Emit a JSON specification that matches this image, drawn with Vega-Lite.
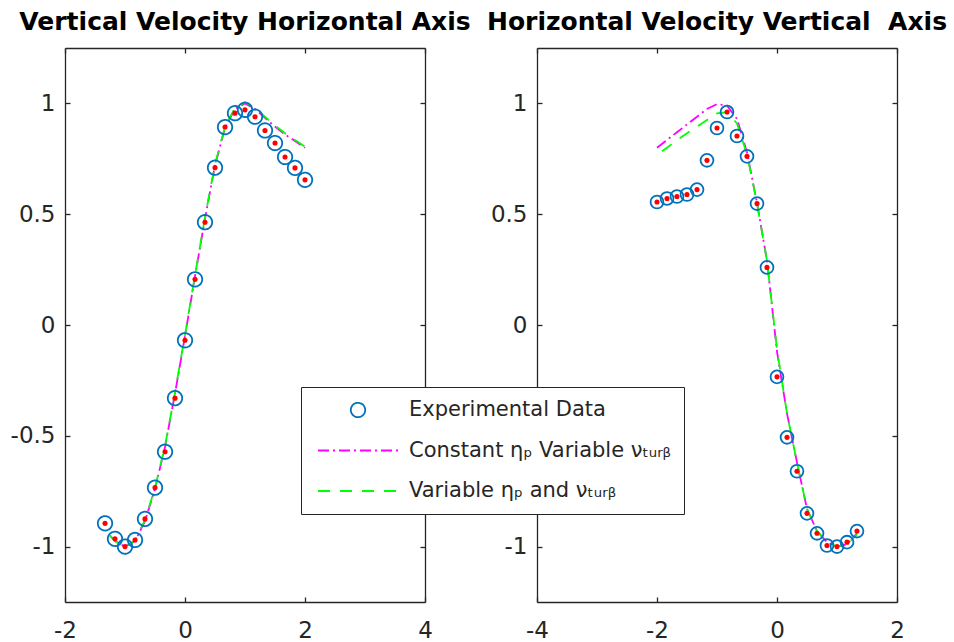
{
  "$schema": "https://vega.github.io/schema/vega-lite/v6.json",
  "background": "white",
  "padding": {"left": 10, "top": 10, "right": 4, "bottom": 2},
  "config": {
    "font": "DejaVu Sans",
    "view": {"stroke": null},
    "axis": {
      "domainColor": "#262626", "domainWidth": 1.3,
      "tickColor": "#262626", "tickWidth": 1.3, "tickSize": -5,
      "labelColor": "#262626", "labelFont": "DejaVu Sans", "labelFontSize": 23,
      "labelFlush": false, "labelOverlap": false, "grid": false
    },
    "legend": {
      "title": null,
      "orient": "none",
      "legendX": 236,
      "legendY": 339,
      "direction": "vertical",
      "padding": 12,
      "strokeColor": "#262626",
      "fillColor": "white",
      "symbolSize": 6400,
      "symbolStrokeWidth": 1.8,
      "symbolOffset": 4,
      "clipHeight": 22,
      "labelFont": "DejaVu Sans",
      "labelFontSize": 21,
      "labelColor": "#262626",
      "labelOffset": 10,
      "labelLimit": 400,
      "rowPadding": 18.5
    },
    "title": {"font": "DejaVu Sans", "fontSize": 25, "fontWeight": "bold", "color": "#000000", "anchor": "middle", "offset": 12}
  },
  "datasets": {
    "left": [
      {"series": "exp", "x": -1.333, "y": -0.895},
      {"series": "exp", "x": -1.167, "y": -0.965},
      {"series": "exp", "x": -1.0, "y": -1.0},
      {"series": "exp", "x": -0.833, "y": -0.97},
      {"series": "exp", "x": -0.667, "y": -0.875},
      {"series": "exp", "x": -0.5, "y": -0.734},
      {"series": "exp", "x": -0.333, "y": -0.572},
      {"series": "exp", "x": -0.167, "y": -0.33},
      {"series": "exp", "x": 0.0, "y": -0.069},
      {"series": "exp", "x": 0.167, "y": 0.206},
      {"series": "exp", "x": 0.333, "y": 0.464},
      {"series": "exp", "x": 0.5, "y": 0.71},
      {"series": "exp", "x": 0.667, "y": 0.893},
      {"series": "exp", "x": 0.833, "y": 0.956},
      {"series": "exp", "x": 1.0, "y": 0.971},
      {"series": "exp", "x": 1.167, "y": 0.94},
      {"series": "exp", "x": 1.333, "y": 0.878},
      {"series": "exp", "x": 1.5, "y": 0.821},
      {"series": "exp", "x": 1.667, "y": 0.758},
      {"series": "exp", "x": 1.833, "y": 0.709},
      {"series": "exp", "x": 2.0, "y": 0.655},
      {"series": "const", "x": -1.25, "y": -0.95},
      {"series": "const", "x": -1.167, "y": -0.975},
      {"series": "const", "x": -1.0, "y": -1.0},
      {"series": "const", "x": -0.833, "y": -0.975},
      {"series": "const", "x": -0.667, "y": -0.885},
      {"series": "const", "x": -0.5, "y": -0.74},
      {"series": "const", "x": -0.333, "y": -0.55},
      {"series": "const", "x": -0.167, "y": -0.31},
      {"series": "const", "x": 0.0, "y": -0.05},
      {"series": "const", "x": 0.167, "y": 0.22},
      {"series": "const", "x": 0.333, "y": 0.48},
      {"series": "const", "x": 0.5, "y": 0.72},
      {"series": "const", "x": 0.667, "y": 0.89},
      {"series": "const", "x": 0.833, "y": 0.975},
      {"series": "const", "x": 1.0, "y": 1.0},
      {"series": "const", "x": 1.167, "y": 0.975},
      {"series": "const", "x": 1.333, "y": 0.935},
      {"series": "const", "x": 1.5, "y": 0.895},
      {"series": "const", "x": 1.667, "y": 0.86},
      {"series": "const", "x": 1.833, "y": 0.83},
      {"series": "const", "x": 2.0, "y": 0.8},
      {"series": "var", "x": -1.25, "y": -0.95},
      {"series": "var", "x": -1.167, "y": -0.975},
      {"series": "var", "x": -1.0, "y": -1.0},
      {"series": "var", "x": -0.833, "y": -0.972},
      {"series": "var", "x": -0.667, "y": -0.88},
      {"series": "var", "x": -0.5, "y": -0.735},
      {"series": "var", "x": -0.333, "y": -0.545},
      {"series": "var", "x": -0.167, "y": -0.305},
      {"series": "var", "x": 0.0, "y": -0.045},
      {"series": "var", "x": 0.167, "y": 0.225},
      {"series": "var", "x": 0.333, "y": 0.485},
      {"series": "var", "x": 0.5, "y": 0.725},
      {"series": "var", "x": 0.667, "y": 0.895},
      {"series": "var", "x": 0.833, "y": 0.98},
      {"series": "var", "x": 1.0, "y": 1.005},
      {"series": "var", "x": 1.167, "y": 0.98},
      {"series": "var", "x": 1.333, "y": 0.94},
      {"series": "var", "x": 1.5, "y": 0.9},
      {"series": "var", "x": 1.667, "y": 0.865},
      {"series": "var", "x": 1.833, "y": 0.835},
      {"series": "var", "x": 2.0, "y": 0.805}
    ],
    "right": [
      {"series": "exp", "x": -2.0, "y": 0.555},
      {"series": "exp", "x": -1.833, "y": 0.571},
      {"series": "exp", "x": -1.667, "y": 0.58},
      {"series": "exp", "x": -1.5, "y": 0.589},
      {"series": "exp", "x": -1.333, "y": 0.611},
      {"series": "exp", "x": -1.167, "y": 0.743},
      {"series": "exp", "x": -1.0, "y": 0.889},
      {"series": "exp", "x": -0.833, "y": 0.961},
      {"series": "exp", "x": -0.667, "y": 0.853},
      {"series": "exp", "x": -0.5, "y": 0.761},
      {"series": "exp", "x": -0.333, "y": 0.548},
      {"series": "exp", "x": -0.167, "y": 0.26},
      {"series": "exp", "x": 0.0, "y": -0.234},
      {"series": "exp", "x": 0.167, "y": -0.507},
      {"series": "exp", "x": 0.333, "y": -0.66},
      {"series": "exp", "x": 0.5, "y": -0.85},
      {"series": "exp", "x": 0.667, "y": -0.94},
      {"series": "exp", "x": 0.833, "y": -0.995},
      {"series": "exp", "x": 1.0, "y": -1.0},
      {"series": "exp", "x": 1.167, "y": -0.98},
      {"series": "exp", "x": 1.333, "y": -0.93},
      {"series": "const", "x": -2.0, "y": 0.8},
      {"series": "const", "x": -1.833, "y": 0.835},
      {"series": "const", "x": -1.667, "y": 0.87},
      {"series": "const", "x": -1.5, "y": 0.905},
      {"series": "const", "x": -1.333, "y": 0.94},
      {"series": "const", "x": -1.167, "y": 0.975},
      {"series": "const", "x": -1.0, "y": 0.997},
      {"series": "const", "x": -0.833, "y": 0.99},
      {"series": "const", "x": -0.667, "y": 0.93},
      {"series": "const", "x": -0.5, "y": 0.78},
      {"series": "const", "x": -0.333, "y": 0.55},
      {"series": "const", "x": -0.167, "y": 0.29},
      {"series": "const", "x": 0.0, "y": -0.12},
      {"series": "const", "x": 0.167, "y": -0.4},
      {"series": "const", "x": 0.333, "y": -0.62},
      {"series": "const", "x": 0.5, "y": -0.83},
      {"series": "const", "x": 0.667, "y": -0.93},
      {"series": "const", "x": 0.833, "y": -0.98},
      {"series": "const", "x": 1.0, "y": -1.0},
      {"series": "const", "x": 1.167, "y": -0.99},
      {"series": "const", "x": 1.333, "y": -0.94},
      {"series": "var", "x": -1.917, "y": 0.784},
      {"series": "var", "x": -1.833, "y": 0.8},
      {"series": "var", "x": -1.667, "y": 0.835},
      {"series": "var", "x": -1.5, "y": 0.865},
      {"series": "var", "x": -1.333, "y": 0.895},
      {"series": "var", "x": -1.167, "y": 0.925},
      {"series": "var", "x": -1.0, "y": 0.955},
      {"series": "var", "x": -0.833, "y": 0.96},
      {"series": "var", "x": -0.667, "y": 0.91},
      {"series": "var", "x": -0.5, "y": 0.77},
      {"series": "var", "x": -0.333, "y": 0.55},
      {"series": "var", "x": -0.167, "y": 0.29},
      {"series": "var", "x": 0.0, "y": -0.11},
      {"series": "var", "x": 0.167, "y": -0.4},
      {"series": "var", "x": 0.333, "y": -0.62},
      {"series": "var", "x": 0.5, "y": -0.83},
      {"series": "var", "x": 0.667, "y": -0.93},
      {"series": "var", "x": 0.833, "y": -0.98},
      {"series": "var", "x": 1.0, "y": -1.0},
      {"series": "var", "x": 1.167, "y": -0.99},
      {"series": "var", "x": 1.333, "y": -0.945}
    ]
  },
  "bounds": "flush",
  "spacing": 112,
  "resolve": {
    "scale": {"stroke": "shared", "shape": "shared", "strokeDash": "shared"},
    "legend": {"stroke": "shared", "shape": "shared", "strokeDash": "shared"}
  },
  "hconcat": [
    {
      "width": 360, "height": 554,
      "title": {"text": "Vertical Velocity Horizontal Axis"},
      "data": {"name": "left"},
      "resolve": {"axis": {"x": "independent", "y": "independent"}},
      "layer": [
        {
          "transform": [{"filter": {"field": "series", "equal": "const"}}],
          "mark": {"type": "line", "stroke": "#FF00FF", "strokeDash": [11, 4, 2, 4], "strokeWidth": 1.8},
          "encoding": {
            "x": {"field": "x", "type": "quantitative", "title": null, "scale": {"domain": [-2, 4], "nice": false, "zero": false},
                  "axis": {"orient": "bottom", "values": [-2, 0, 2, 4], "format": "~g", "labelPadding": 22, "labelExpr": "replace(datum.label, '\u2212', '-')"}},
            "y": {"field": "y", "type": "quantitative", "title": null, "scale": {"domain": [-1.25, 1.25], "nice": false, "zero": false},
                  "axis": {"orient": "left", "values": [-1, -0.5, 0, 0.5, 1], "format": "~g", "labelPadding": 15, "labelExpr": "replace(datum.label, '\u2212', '-')"}}
          }
        },
        {
          "transform": [{"filter": {"field": "series", "equal": "var"}}],
          "mark": {"type": "line", "stroke": "#00FF00", "strokeDash": [12, 10], "strokeWidth": 1.8},
          "encoding": {
            "x": {"field": "x", "type": "quantitative", "title": null, "axis": {"orient": "top", "values": [-2, 0, 2, 4], "labels": false}},
            "y": {"field": "y", "type": "quantitative", "title": null, "axis": {"orient": "right", "values": [-1, -0.5, 0, 0.5, 1], "labels": false}}
          }
        },
        {
          "transform": [{"filter": {"field": "series", "equal": "exp"}}],
          "mark": {"type": "point", "filled": false, "size": 6400, "strokeWidth": 1.8, "opacity": 1},
          "encoding": {
            "x": {"field": "x", "type": "quantitative", "axis": null},
            "y": {"field": "y", "type": "quantitative", "axis": null},
            "stroke": {
              "field": "series", "type": "nominal",
              "scale": {"domain": ["exp", "const", "var"], "range": ["#0072BD", "#FF00FF", "#00FF00"]},
              "legend": {"labelExpr": "datum.value == 'exp' ? 'Experimental Data' : datum.value == 'const' ? 'Constant \u03b7\u209a Variable \u03bd\u209c\u1d64\u1d63\u1d66' : 'Variable \u03b7\u209a and \u03bd\u209c\u1d64\u1d63\u1d66'"}
            },
            "shape": {
              "field": "series", "type": "nominal",
              "scale": {"domain": ["exp", "const", "var"], "range": ["M-0.18,0A0.18,0.18,0,1,0,0.18,0A0.18,0.18,0,1,0,-0.18,0Z", "stroke", "stroke"]},
              "legend": {"labelExpr": "datum.value == 'exp' ? 'Experimental Data' : datum.value == 'const' ? 'Constant \u03b7\u209a Variable \u03bd\u209c\u1d64\u1d63\u1d66' : 'Variable \u03b7\u209a and \u03bd\u209c\u1d64\u1d63\u1d66'"}
            },
            "strokeDash": {
              "field": "series", "type": "nominal",
              "scale": {"domain": ["exp", "const", "var"], "range": [[1, 0], [11, 4, 2, 4], [12, 10]]},
              "legend": {"labelExpr": "datum.value == 'exp' ? 'Experimental Data' : datum.value == 'const' ? 'Constant \u03b7\u209a Variable \u03bd\u209c\u1d64\u1d63\u1d66' : 'Variable \u03b7\u209a and \u03bd\u209c\u1d64\u1d63\u1d66'"}
            }
          }
        },
        {
          "transform": [{"filter": {"field": "series", "equal": "exp"}}],
          "mark": {"type": "circle", "color": "#FF0000", "size": 26, "opacity": 1},
          "encoding": {
            "x": {"field": "x", "type": "quantitative", "axis": null},
            "y": {"field": "y", "type": "quantitative", "axis": null}
          }
        }
      ]
    },
    {
      "width": 360, "height": 554,
      "title": {"text": "Horizontal Velocity Vertical\u00a0 Axis"},
      "data": {"name": "right"},
      "resolve": {"axis": {"x": "independent", "y": "independent"}},
      "layer": [
        {
          "transform": [{"filter": {"field": "series", "equal": "const"}}],
          "mark": {"type": "line", "stroke": "#FF00FF", "strokeDash": [11, 4, 2, 4], "strokeWidth": 1.8},
          "encoding": {
            "x": {"field": "x", "type": "quantitative", "title": null, "scale": {"domain": [-4, 2], "nice": false, "zero": false},
                  "axis": {"orient": "bottom", "values": [-4, -2, 0, 2], "format": "~g", "labelPadding": 22, "labelExpr": "replace(datum.label, '\u2212', '-')"}},
            "y": {"field": "y", "type": "quantitative", "title": null, "scale": {"domain": [-1.25, 1.25], "nice": false, "zero": false},
                  "axis": {"orient": "left", "values": [-1, -0.5, 0, 0.5, 1], "format": "~g", "labelPadding": 15, "labelExpr": "replace(datum.label, '\u2212', '-')"}}
          }
        },
        {
          "transform": [{"filter": {"field": "series", "equal": "var"}}],
          "mark": {"type": "line", "stroke": "#00FF00", "strokeDash": [12, 10], "strokeWidth": 1.8},
          "encoding": {
            "x": {"field": "x", "type": "quantitative", "title": null, "axis": {"orient": "top", "values": [-4, -2, 0, 2], "labels": false}},
            "y": {"field": "y", "type": "quantitative", "title": null, "axis": {"orient": "right", "values": [-1, -0.5, 0, 0.5, 1], "labels": false}}
          }
        },
        {
          "transform": [{"filter": {"field": "series", "equal": "exp"}}],
          "mark": {"type": "point", "shape": "circle", "filled": false, "size": 165, "strokeWidth": 1.8, "color": "#0072BD", "opacity": 1},
          "encoding": {
            "x": {"field": "x", "type": "quantitative", "axis": null},
            "y": {"field": "y", "type": "quantitative", "axis": null}
          }
        },
        {
          "transform": [{"filter": {"field": "series", "equal": "exp"}}],
          "mark": {"type": "circle", "color": "#FF0000", "size": 26, "opacity": 1},
          "encoding": {
            "x": {"field": "x", "type": "quantitative", "axis": null},
            "y": {"field": "y", "type": "quantitative", "axis": null}
          }
        }
      ]
    }
  ]
}
